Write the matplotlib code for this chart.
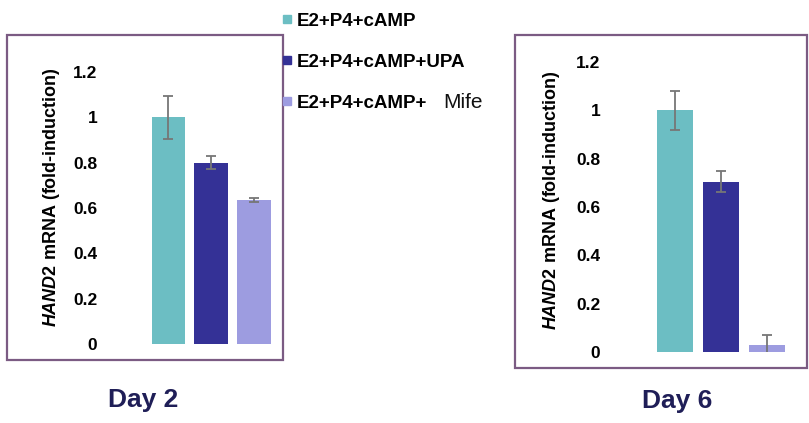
import matplotlib
matplotlib.use("Agg")
import matplotlib.pyplot as plt
from matplotlib.patches import Rectangle

# ---- data ----
panels = ["Day 2", "Day 6"]
treatments = ["E2+P4+cAMP", "E2+P4+cAMP+UPA", "E2+P4+cAMP+"]
treatment_suffix = "Mife"
day2_means = [1.00, 0.80, 0.635]
day2_err = [0.095, 0.03, 0.008]
day6_means = [1.00, 0.705, 0.028]
day6_err = [0.08, 0.042, 0.042]
yticks = [0, 0.2, 0.4, 0.6, 0.8, 1.0, 1.2]
ytick_labels = ["0", "0.2", "0.4", "0.6", "0.8", "1", "1.2"]
ylabel = r"$\mathit{HAND2}$ mRNA (fold-induction)"

colors = ["#6cbec3", "#343196", "#9d9ce0"]
frame_color = "#7b5b83"
day_color = "#1f1e57"

plt.rcParams["font.family"] = ["Liberation Sans", "DejaVu Sans"]
plt.rcParams["mathtext.fontset"] = "custom"
plt.rcParams["mathtext.it"] = "Liberation Sans:italic:bold"
plt.rcParams["mathtext.rm"] = "Liberation Sans:bold"
plt.rcParams["mathtext.bf"] = "Liberation Sans:bold"

W, H = 809, 423
fig = plt.figure(figsize=(W / 100, H / 100), dpi=100)


def fx(x):
    return x / W


def fy(y):
    return 1 - y / H


def panel(ax_box, xlim, means, errs, frame_box, ylab_pos, width):
    l, t, r, b = ax_box
    ax = fig.add_axes([fx(l), fy(b), fx(r) - fx(l), fy(t) - fy(b)])
    xs = list(range(len(means)))
    ax.bar(xs, means, width=width, color=colors, zorder=2)
    ax.errorbar(xs, means, yerr=errs, fmt="none", ecolor="#767676",
                elinewidth=1.3, capsize=3.5, capthick=1.3, zorder=3)
    ax.set_ylim(0, 1.2)
    ax.set_xlim(*xlim)
    ax.set_yticks(yticks)
    ax.set_yticklabels(ytick_labels, fontsize=12.5, fontweight="bold")
    ax.set_xticks([])
    ax.tick_params(axis="y", length=0, pad=2)
    for s in ax.spines.values():
        s.set_visible(False)
    ax.patch.set_alpha(0)
    fl, ft, fr, fb = frame_box
    fig.add_artist(Rectangle((fx(fl), fy(fb)), fx(fr) - fx(fl), fy(ft) - fy(fb),
                             transform=fig.transFigure, fill=False,
                             edgecolor=frame_color, linewidth=1.6))
    fig.text(fx(ylab_pos[0]), fy(ylab_pos[1]), ylabel, rotation=90,
             ha="center", va="center", fontsize=13, fontweight="bold")
    return ax


panel((100, 72, 280, 344), (-1.60, 2.61), day2_means, day2_err,
      (7, 35, 283, 360), (52, 197), 0.78)
panel((603, 62, 800, 352), (-1.574, 2.73), day6_means, day6_err,
      (515, 35, 807, 368), (552, 200), 0.79)

# legend (manual)
baselines = [26, 67, 108]
sq_centers = [19, 60, 101]
for lab, col, bl, sc in zip(treatments, colors, baselines, sq_centers):
    fig.add_artist(Rectangle((fx(283), fy(sc + 4)), fx(8), 8 / H,
                             transform=fig.transFigure, color=col))
    fig.text(fx(297), fy(bl), lab, ha="left", va="baseline",
             fontsize=13.5, fontweight="bold", color="black")
fig.text(fx(443), fy(108), treatment_suffix, ha="left", va="baseline",
         fontsize=15, color="#111111")

# panel titles
fig.text(fx(143), fy(400), panels[0], ha="center", va="center",
         fontsize=19, fontweight="bold", color=day_color)
fig.text(fx(677), fy(401), panels[1], ha="center", va="center",
         fontsize=19, fontweight="bold", color=day_color)

fig.savefig("out.png", dpi=100)
